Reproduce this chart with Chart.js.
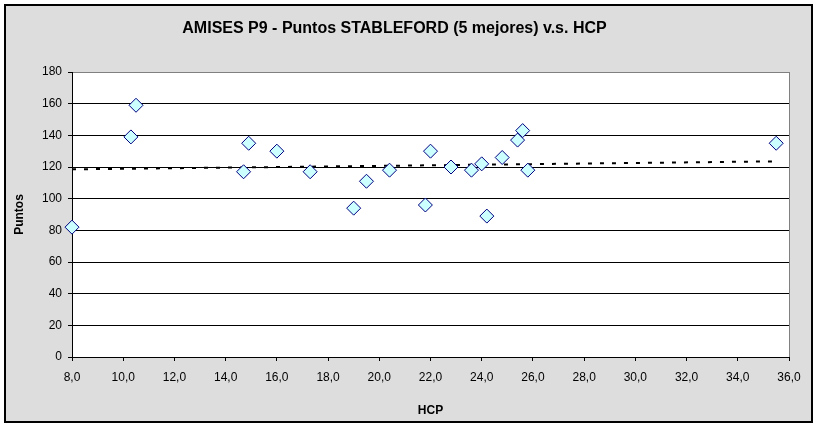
<!DOCTYPE html>
<html>
<head>
<meta charset="utf-8">
<script src="https://cdn.jsdelivr.net/npm/chart.js@4/dist/chart.umd.min.js"></script>
<style>
html,body{margin:0;padding:0;background:#fff;}
#wrap{width:818px;height:427px;position:relative;}
</style>
</head>
<body>
<div id="wrap"><canvas id="c" width="818" height="427"></canvas></div>
<script>
// Data
const hcp    = [8.0, 10.3, 10.5, 14.7, 14.9, 16.0, 17.3, 19.0, 19.5, 20.4, 21.8, 22.0, 22.8, 23.6, 24.0, 24.2, 24.8, 25.4, 25.6, 25.8, 35.5];
const puntos = [82, 139, 159, 117, 135, 130, 117, 94, 111, 118, 96, 130, 120, 118, 122, 89, 126, 137, 143, 118, 135];
const xTicks = [8, 10, 12, 14, 16, 18, 20, 22, 24, 26, 28, 30, 32, 34, 36];
const yTicks = [0, 20, 40, 60, 80, 100, 120, 140, 160, 180];
const titleText = 'AMISES P9 - Puntos STABLEFORD (5 mejores) v.s. HCP';
const xTitle = 'HCP';
const yTitle = 'Puntos';

// linear trend line (least squares) of the data
const n = hcp.length;
const mx = hcp.reduce((a,b)=>a+b,0)/n;
const my = puntos.reduce((a,b)=>a+b,0)/n;
let sxy = 0, sxx = 0;
for (let i=0;i<n;i++){ sxy += (hcp[i]-mx)*(puntos[i]-my); sxx += (hcp[i]-mx)**2; }
const slope = sxy/sxx, icpt = my - slope*mx;
const xMin = Math.min(...hcp), xMax = Math.max(...hcp);
const trend = [{x:xMin, y:icpt+slope*xMin},{x:xMax, y:icpt+slope*xMax}];

const points = hcp.map((x,i)=>({x, y:puntos[i]}));

const bgPlugin = {
  id:'bg',
  beforeDraw(chart){
    const {ctx, chartArea:a} = chart;
    ctx.save();
    ctx.fillStyle='#ffffff';
    ctx.fillRect(0,0,chart.width,chart.height);
    ctx.fillStyle='#DDDDDD';
    ctx.fillRect(5,5,807,417);
    ctx.strokeStyle='#000';
    ctx.lineWidth=2;
    ctx.strokeRect(5,5,807,417);
    ctx.fillStyle='#ffffff';
    ctx.fillRect(a.left,a.top,a.right-a.left,a.bottom-a.top);
    ctx.restore();
  },
  beforeDatasetsDraw(chart){
    const {ctx, chartArea:a} = chart;
    ctx.save();
    ctx.strokeStyle='#808080';
    ctx.lineWidth=1;
    ctx.beginPath();
    ctx.moveTo(Math.round(a.right)+0.5, a.top);
    ctx.lineTo(Math.round(a.right)+0.5, a.bottom);
    ctx.stroke();
    ctx.restore();
  }
};

const FONT = "'Liberation Sans', Arial, sans-serif";

new Chart(document.getElementById('c'), {
  type:'scatter',
  data:{
    datasets:[
      {
        label:'Puntos',
        data:points,
        clip:false,
        pointStyle:'rectRot',
        pointRadius:7,
        pointHoverRadius:7,
        backgroundColor:'#CCFFFF',
        borderColor:'#000080',
        borderWidth:1
      },
      {
        type:'line',
        label:'Tendencia',
        data:trend,
        clip:false,
        borderColor:'#000000',
        borderWidth:2,
        borderDash:[4,8],
        pointRadius:0,
        fill:false
      }
    ]
  },
  options:{
    responsive:false,
    animation:false,
    devicePixelRatio:1,
    layout:{padding:{left:0,right:29,top:0,bottom:0}},
    plugins:{
      legend:{display:false},
      tooltip:{enabled:false},
      title:{
        display:true,
        text:titleText,
        color:'#000',
        font:{family:FONT,size:16,weight:'bold',lineHeight:1.2},
        padding:{top:19.4,bottom:33.4}
      }
    },
    scales:{
      x:{
        type:'linear',
        min:8, max:36,
        afterBuildTicks(scale){ scale.ticks = xTicks.map(v=>({value:v})); },
        afterFit(scale){ scale.height = 70; },
        ticks:{
          color:'#000',
          font:{family:FONT,size:12},
          padding:9,
          maxRotation:0,
          autoSkip:false,
          callback:(v)=>Number(v).toFixed(1).replace('.',',')
        },
        grid:{drawOnChartArea:false,drawTicks:true,tickLength:4,tickColor:'#000',color:'#000'},
        border:{display:true,color:'#000',width:1},
        title:{display:true,text:xTitle,color:'#000',font:{family:FONT,size:12,weight:'bold',lineHeight:1.2},padding:{top:0,bottom:8.8}}
      },
      y:{
        type:'linear',
        min:0, max:180,
        afterBuildTicks(scale){ scale.ticks = yTicks.map(v=>({value:v})); },
        afterFit(scale){ scale.width = 72; },
        ticks:{
          color:'#000',
          font:{family:FONT,size:12},
          padding:6,
          autoSkip:false
        },
        grid:{
          drawTicks:true,tickLength:4,tickColor:'#000',
          color:(c)=> (c.tick && c.tick.value===180) ? '#808080' : '#000000',
          lineWidth:1
        },
        border:{display:true,color:'#000',width:1},
        title:{display:true,text:yTitle,color:'#000',font:{family:FONT,size:12,weight:'bold',lineHeight:1.2},padding:{top:12,bottom:0}}
      }
    }
  },
  plugins:[bgPlugin]
});
</script>
</body>
</html>
